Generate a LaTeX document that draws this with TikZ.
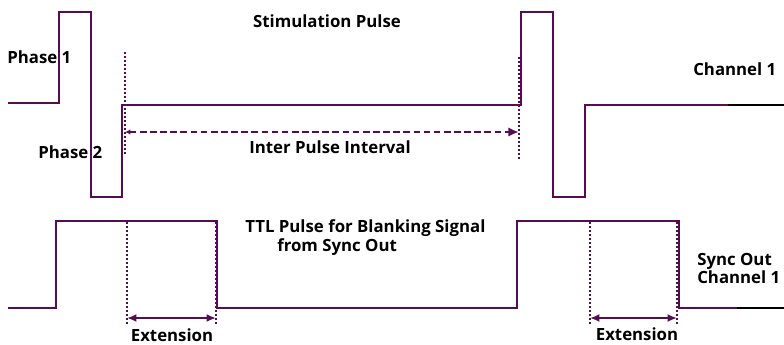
\documentclass[tikz,border=0pt]{standalone}
\usepackage{fontspec}
\setmainfont{Open Sans}[BoldFont={* Bold}]
\usetikzlibrary{arrows.meta}
\definecolor{wave}{RGB}{85,12,82}
\tikzset{
  signal/.style={draw=wave,line width=1.8pt},
  marker/.style={draw=wave,line width=1.5pt,dash pattern=on 1.5pt off 1.5pt},
  span/.style={draw=wave,line width=1.8pt,{Latex[length=7pt,width=6pt]}-{Latex[length=7pt,width=6pt]}},
  lbl/.style={font=\bfseries\fontsize{12.6}{14.5}\selectfont,inner sep=0pt}
}
\begin{document}
\begin{tikzpicture}[x=0.75pt,y=-0.75pt]
\useasboundingbox (0,0) rectangle (784,344);
% channel 1 stimulation
\draw[signal] (8,103) -- (59,103) -- (59,12) -- (91,12) -- (91,197) -- (122,197) -- (122,105)
  -- (521,105) -- (521,12) -- (553,12) -- (553,197) -- (585,197) -- (585,105) -- (728,105);
\draw[line width=1.8pt] (728,105) -- (784,105);
% sync out
\draw[signal] (8,308) -- (56,308) -- (56,221) -- (217,221) -- (217,308)
  -- (517,308) -- (517,221) -- (679,221) -- (679,308) -- (737,308);
\draw[line width=1.8pt] (737,308) -- (784,308);
% markers
\coordinate (ipiA) at (125,132);
\coordinate (ipiB) at (519,132);
\draw[marker] (125,52) -- (125,156);
\draw[marker] (519,57) -- (519,161);
\draw[draw=wave,line width=1.8pt,dash pattern=on 5pt off 2.6pt,{Latex[length=4pt,width=4pt]}-{Latex[length=8pt,width=7pt]}] (ipiA) -- (ipiB);
\coordinate (extA) at (127,318);
\coordinate (extB) at (216,318);
\coordinate (extC) at (590,318);
\coordinate (extD) at (677,318);
\draw[marker] (127,222) -- (127,324);
\draw[marker] (216,222) -- (216,324);
\draw[marker] (590,222) -- (590,324);
\draw[marker] (677,222) -- (677,324);
\draw[span] (extA) -- (extB);
\draw[span] (extC) -- (extD);
% labels
\node[lbl] (stim) at (327,21) {Stimulation Pulse};
\node[lbl,anchor=west] (ph1) at (7,57) {Phase 1};
\node[lbl,anchor=west] (ph2) at (38,152) {Phase 2};
\node[lbl] (ipi) at (330,147) {Inter Pulse Interval};
\node[lbl,anchor=west] (ch1) at (693,69) {Channel 1};
\node[lbl,anchor=west] (ttl) at (245,228) {TTL Pulse for Blanking Signal};
\node[lbl,anchor=west] (from) at (277,247) {from Sync Out};
\node[lbl,anchor=west,align=left] (sync) at (697,268) {Sync Out\\[-1pt]Channel 1};
\node[lbl] (extL) at (172,335) {Extension};
\node[lbl] (extR) at (637,334) {Extension};
\end{tikzpicture}
\end{document}
